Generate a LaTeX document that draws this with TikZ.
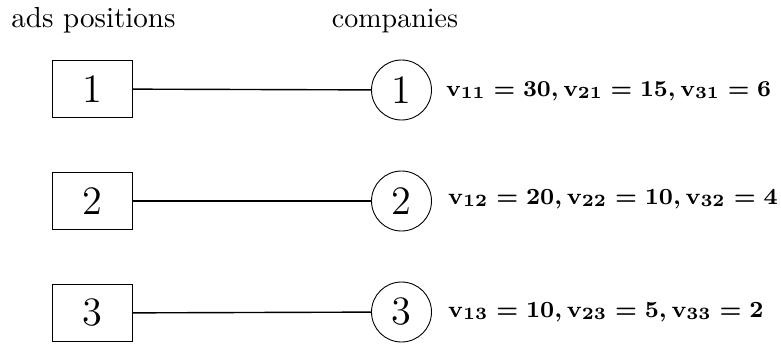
\documentclass[tikz,border=0pt]{standalone}
\usepackage{amsmath}
\usepackage{graphicx}
\newcommand{\bigtxt}[2]{\scalebox{#1}{#2}}
\tikzset{
  adbox/.style={draw, line width=0.9pt, minimum width=80pt, minimum height=57pt, inner sep=0pt},
  comp/.style={draw, circle, line width=0.9pt, minimum size=60pt, inner sep=0pt},
  head/.style={anchor=base, inner sep=0pt},
  val/.style={anchor=base west, inner sep=0pt},
  link/.style={line width=1.4pt}
}
\begin{document}
\begin{tikzpicture}[x=1pt,y=-1pt]
\useasboundingbox (0,0) rectangle (781,346);
\node[head] (h1) at (93.5,27) {\bigtxt{2.9}{ads positions}};
\node[head] (h2) at (395,27) {\bigtxt{2.8}{companies}};
\node[adbox] (a1) at (92,89) {\bigtxt{2.8}{\Large 1}};
\node[adbox] (a2) at (92,201) {\bigtxt{2.8}{\Large 2}};
\node[adbox] (a3) at (92,313) {\bigtxt{2.8}{\Large 3}};
\node[comp] (c1) at (401.5,90) {\bigtxt{2.8}{\Large 1}};
\node[comp] (c2) at (401.5,201) {\bigtxt{2.8}{\Large 2}};
\node[comp] (c3) at (401.5,312) {\bigtxt{2.8}{\Large 3}};
\draw[link] (a1) -- (c1);
\draw[link] (a2) -- (c2);
\draw[link] (a3) -- (c3);
\node[val] (v1) at (446,96) {\bigtxt{2.84}{\footnotesize\boldmath$\mathbf{v}_{11}=30,\mathbf{v}_{21}=15,\mathbf{v}_{31}=6$}};
\node[val] (v2) at (448,204) {\bigtxt{2.88}{\footnotesize\boldmath$\mathbf{v}_{12}=20,\mathbf{v}_{22}=10,\mathbf{v}_{32}=4$}};
\node[val] (v3) at (448,317) {\bigtxt{2.88}{\footnotesize\boldmath$\mathbf{v}_{13}=10,\mathbf{v}_{23}=5,\mathbf{v}_{33}=2$}};
\end{tikzpicture}
\end{document}
